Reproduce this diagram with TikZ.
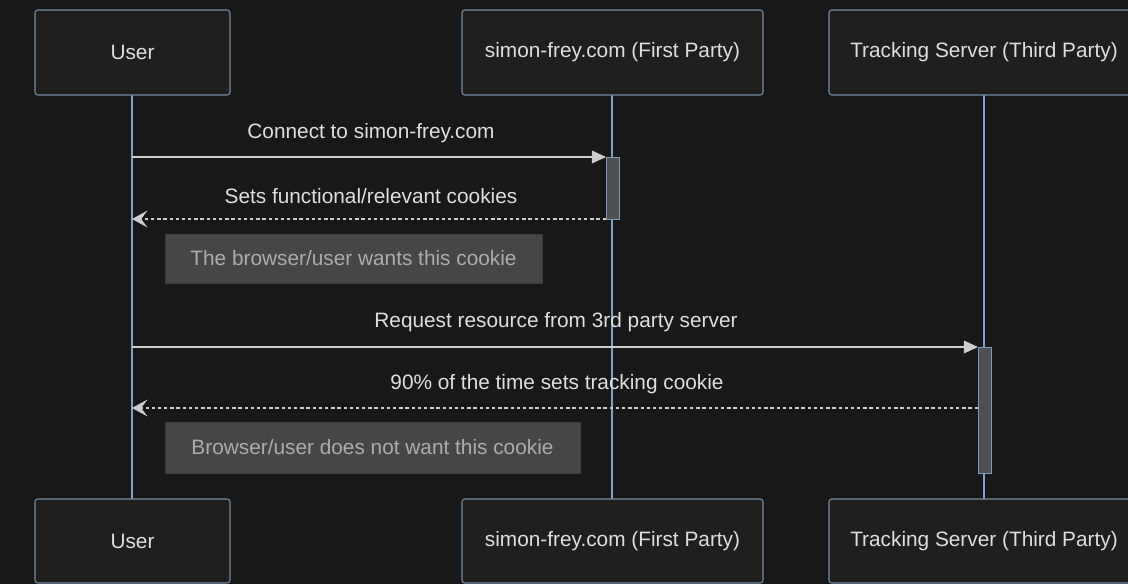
\documentclass[tikz,border=0pt]{standalone}
\usepackage{fontspec}
\setmainfont{Liberation Sans}
\usetikzlibrary{arrows.meta}

\definecolor{bgdark}{RGB}{24,24,24}
\definecolor{boxfill}{RGB}{32,31,30}
\definecolor{boxline}{RGB}{118,138,160}
\definecolor{lifeline}{RGB}{122,162,204}
\definecolor{msgline}{RGB}{205,205,205}
\definecolor{textlight}{RGB}{222,222,222}
\definecolor{notefill}{RGB}{70,70,70}
\definecolor{notetext}{RGB}{172,172,172}
\definecolor{actfill}{RGB}{80,80,82}

\tikzset{
  actor/.style={draw=boxline, fill=boxfill, rounded corners=2pt, line width=0.8pt,
    text=textlight, font=\fontsize{14.8}{17}\selectfont, inner sep=0pt},
  lifeln/.style={draw=lifeline, line width=1.1pt},
  actbar/.style={draw=lifeline!80!gray, fill=actfill, line width=0.6pt},
  callmsg/.style={draw=msgline, line width=0.9pt, -{Triangle[length=10pt,width=9pt]}},
  replymsg/.style={draw=msgline, line width=0.9pt, dash pattern=on 2.4pt off 2pt,
    -{Stealth[length=11pt,width=12pt,inset=4.5pt,sep=0pt]}},
  msglabel/.style={text=textlight, font=\fontsize{14.8}{17}\selectfont, inner sep=0pt},
  note/.style={fill=notefill, draw=notefill!85!black, line width=0.4pt, text=notetext,
    font=\fontsize{14.8}{17}\selectfont, inner sep=0pt}
}

\begin{document}
\begin{tikzpicture}[x=0.025cm, y=-0.025cm]
    \clip (0,0) rectangle (1128,584);
    \fill[bgdark] (0,0) rectangle (1128,584);

    % lifelines
    \draw[lifeln] (132,95) -- (132,499);
    \draw[lifeln] (612,95) -- (612,499);
    \draw[lifeln] (984,95) -- (984,499);

    % actors, top and bottom
    \node[actor, minimum width=195*0.025cm, minimum height=85*0.025cm] (usertop) at (132.5,52.5) {User};
    \node[actor, minimum width=301*0.025cm, minimum height=85*0.025cm] (firsttop) at (612.5,52.5) {simon-frey.com (First Party)};
    \node[actor, minimum width=310*0.025cm, minimum height=85*0.025cm] (thirdtop) at (984,52.5) {Tracking Server (Third Party)};
    \node[actor, minimum width=195*0.025cm, minimum height=84*0.025cm] (userbot) at (132.5,541) {User};
    \node[actor, minimum width=301*0.025cm, minimum height=84*0.025cm] (firstbot) at (612.5,541) {simon-frey.com (First Party)};
    \node[actor, minimum width=310*0.025cm, minimum height=84*0.025cm] (thirdbot) at (984,541) {Tracking Server (Third Party)};

    % activation bars
    \draw[actbar] (606,157) rectangle (619,219);
    \draw[actbar] (978,347) rectangle (991,473);

    % message ends
    \coordinate (u1) at (132,157);
    \coordinate (f1) at (606,157);
    \coordinate (f2) at (606,219);
    \coordinate (u2) at (132,219);
    \coordinate (u3) at (132,347);
    \coordinate (t3) at (978,347);
    \coordinate (t4) at (978,408);
    \coordinate (u4) at (132,408);

    % messages
    \draw[callmsg] (u1) -- (f1);
    \node[msglabel] (connect) at (371,133) {Connect to simon-frey.com};
    \draw[replymsg] (f2) -- (u2);
    \node[msglabel] (setsfunc) at (371,196) {Sets functional/relevant cookies};
    \node[note, minimum width=377*0.025cm, minimum height=49*0.025cm] (wants) at (353.5,258.5) {The browser/user wants this cookie};

    \draw[callmsg] (u3) -- (t3);
    \node[msglabel] (request) at (556,322) {Request resource from 3rd party server};
    \draw[replymsg] (t4) -- (u4);
    \node[msglabel] (tracking) at (557,384) {90\% of the time sets tracking cookie};
    \node[note, minimum width=415*0.025cm, minimum height=51*0.025cm] (notwant) at (372.5,447.5) {Browser/user does not want this cookie};
\end{tikzpicture}
\end{document}
